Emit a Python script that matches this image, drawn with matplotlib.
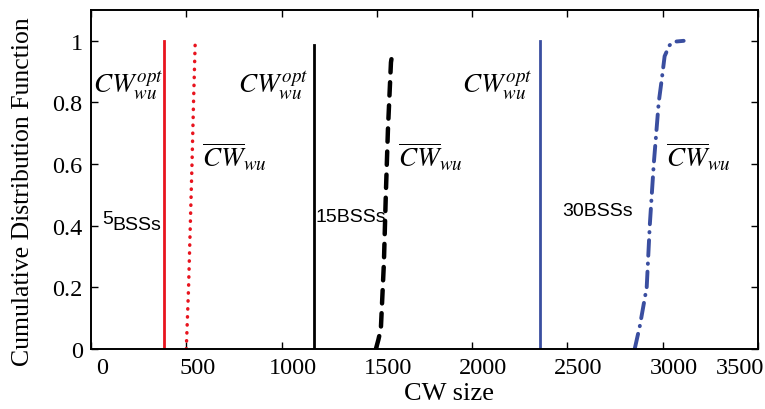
import matplotlib
matplotlib.use('Agg')
import matplotlib.pyplot as plt
import matplotlib.transforms as mtransforms

# CW values
cw_opt_5 = 384
cw_opt_15 = 1168
cw_opt_30 = 2357

# empirical CDF of mean CW (x = CW, y = CDF)
cw_mean_5_x = [500, 512, 521, 530, 538, 547]
cw_mean_5_y = [0.0, 0.2, 0.4, 0.6, 0.8, 1.0]

cw_mean_15_x = [1495, 1508, 1521, 1537, 1547, 1558, 1574, 1584]
cw_mean_15_y = [0.0, 0.03, 0.065, 0.28, 0.5, 0.71, 0.93, 0.97]

cw_mean_30_x = [2853, 2880, 2916, 2932, 2953, 2979, 2995, 3010, 3035, 3058, 3110]
cw_mean_30_y = [0.0, 0.075, 0.2, 0.4, 0.6, 0.8, 0.875, 0.95, 0.985, 0.997, 1.0]

xticks = [0, 500, 1000, 1500, 2000, 2500, 3000, 3500]
yticks = [0, 0.2, 0.4, 0.6, 0.8, 1]
ytick_labels = ['0', '0.2', '0.4', '0.6', '0.8', '1']

red = '#e8141e'
blue = '#3a4ea0'

plt.rcParams['font.family'] = ['Liberation Serif', 'DejaVu Serif']
plt.rcParams['mathtext.fontset'] = 'stix'

fig = plt.figure(figsize=(7.65, 4.10), dpi=100)
ax = fig.add_axes([91/765, 1 - 350/410, (758-91)/765, (350-11)/410])

# optimal CW (vertical lines)
ax.plot([cw_opt_5, cw_opt_5], [0, 1.0], color=red, lw=2)
ax.plot([cw_opt_15, cw_opt_15], [0, 0.985], color='black', lw=2)
ax.plot([cw_opt_30, cw_opt_30], [0, 1.0], color=blue, lw=2)

# mean CW CDFs
ax.plot(cw_mean_5_x, cw_mean_5_y, color=red, lw=2.5, linestyle=(0, (0.1, 2.2)),
        dash_capstyle='round')
ax.plot(cw_mean_15_x, cw_mean_15_y, color='black', lw=3.2, linestyle=(0, (3, 2.2)),
        dash_capstyle='round')
ax.plot(cw_mean_30_x, cw_mean_30_y, color=blue, lw=2.8,
        linestyle=(0, (4, 2, 0.1, 2)), dash_capstyle='round')

# annotations
opt_txt = r'$CW_{wu}^{opt}$'
mean_txt = r'$\overline{CW}_{wu}$'
for x in [9, 769, 1947]:
    ax.text(x, 0.833, opt_txt, fontsize=19.5, ha='left', va='baseline')
for x in [584, 1610, 3016]:
    ax.text(x, 0.593, mean_txt, fontsize=19.5, ha='left', va='baseline')

sans = ['Liberation Sans', 'DejaVu Sans']
ax.text(58, 0.41, '5', fontsize=14, family=sans, ha='left', va='baseline')
ax.text(110, 0.39, 'BSSs', fontsize=14, family=sans, ha='left', va='baseline')
ax.text(1179, 0.415, '15BSSs', fontsize=14, family=sans, ha='left', va='baseline')
ax.text(2474, 0.434, '30BSSs', fontsize=14, family=sans, ha='left', va='baseline')

ax.set_xlim(0, 3500)
ax.set_ylim(0, 1.1)
ax.set_xticks(xticks)
ax.set_xticklabels([str(t) for t in xticks])
ax.set_yticks(yticks)
ax.set_yticklabels(ytick_labels)
ax.tick_params(direction='in', top=True, right=True, labelsize=17.5, length=5, width=1)
ax.tick_params(axis='y', pad=6)
ax.tick_params(axis='x', pad=6)
for s in ax.spines.values():
    s.set_linewidth(1.4)

# x tick labels sit a bit right of their ticks in the original
shift = mtransforms.ScaledTranslation(11/100, 0, fig.dpi_scale_trans)
labels = ax.get_xticklabels()
for lab in labels[:-1]:
    lab.set_transform(lab.get_transform() + shift)
labels[-1].set_horizontalalignment('right')
labels[-1].set_transform(labels[-1].get_transform()
                         + mtransforms.ScaledTranslation(6/100, 0, fig.dpi_scale_trans))

ax.set_xlabel('CW size', fontsize=19)
ax.set_ylabel('Cumulative Distribution Function', fontsize=18.5)
ax.xaxis.set_label_coords(0.537, -0.098)
ax.yaxis.set_label_coords(-0.085, 0.466)

fig.savefig('out.png', dpi=100)
